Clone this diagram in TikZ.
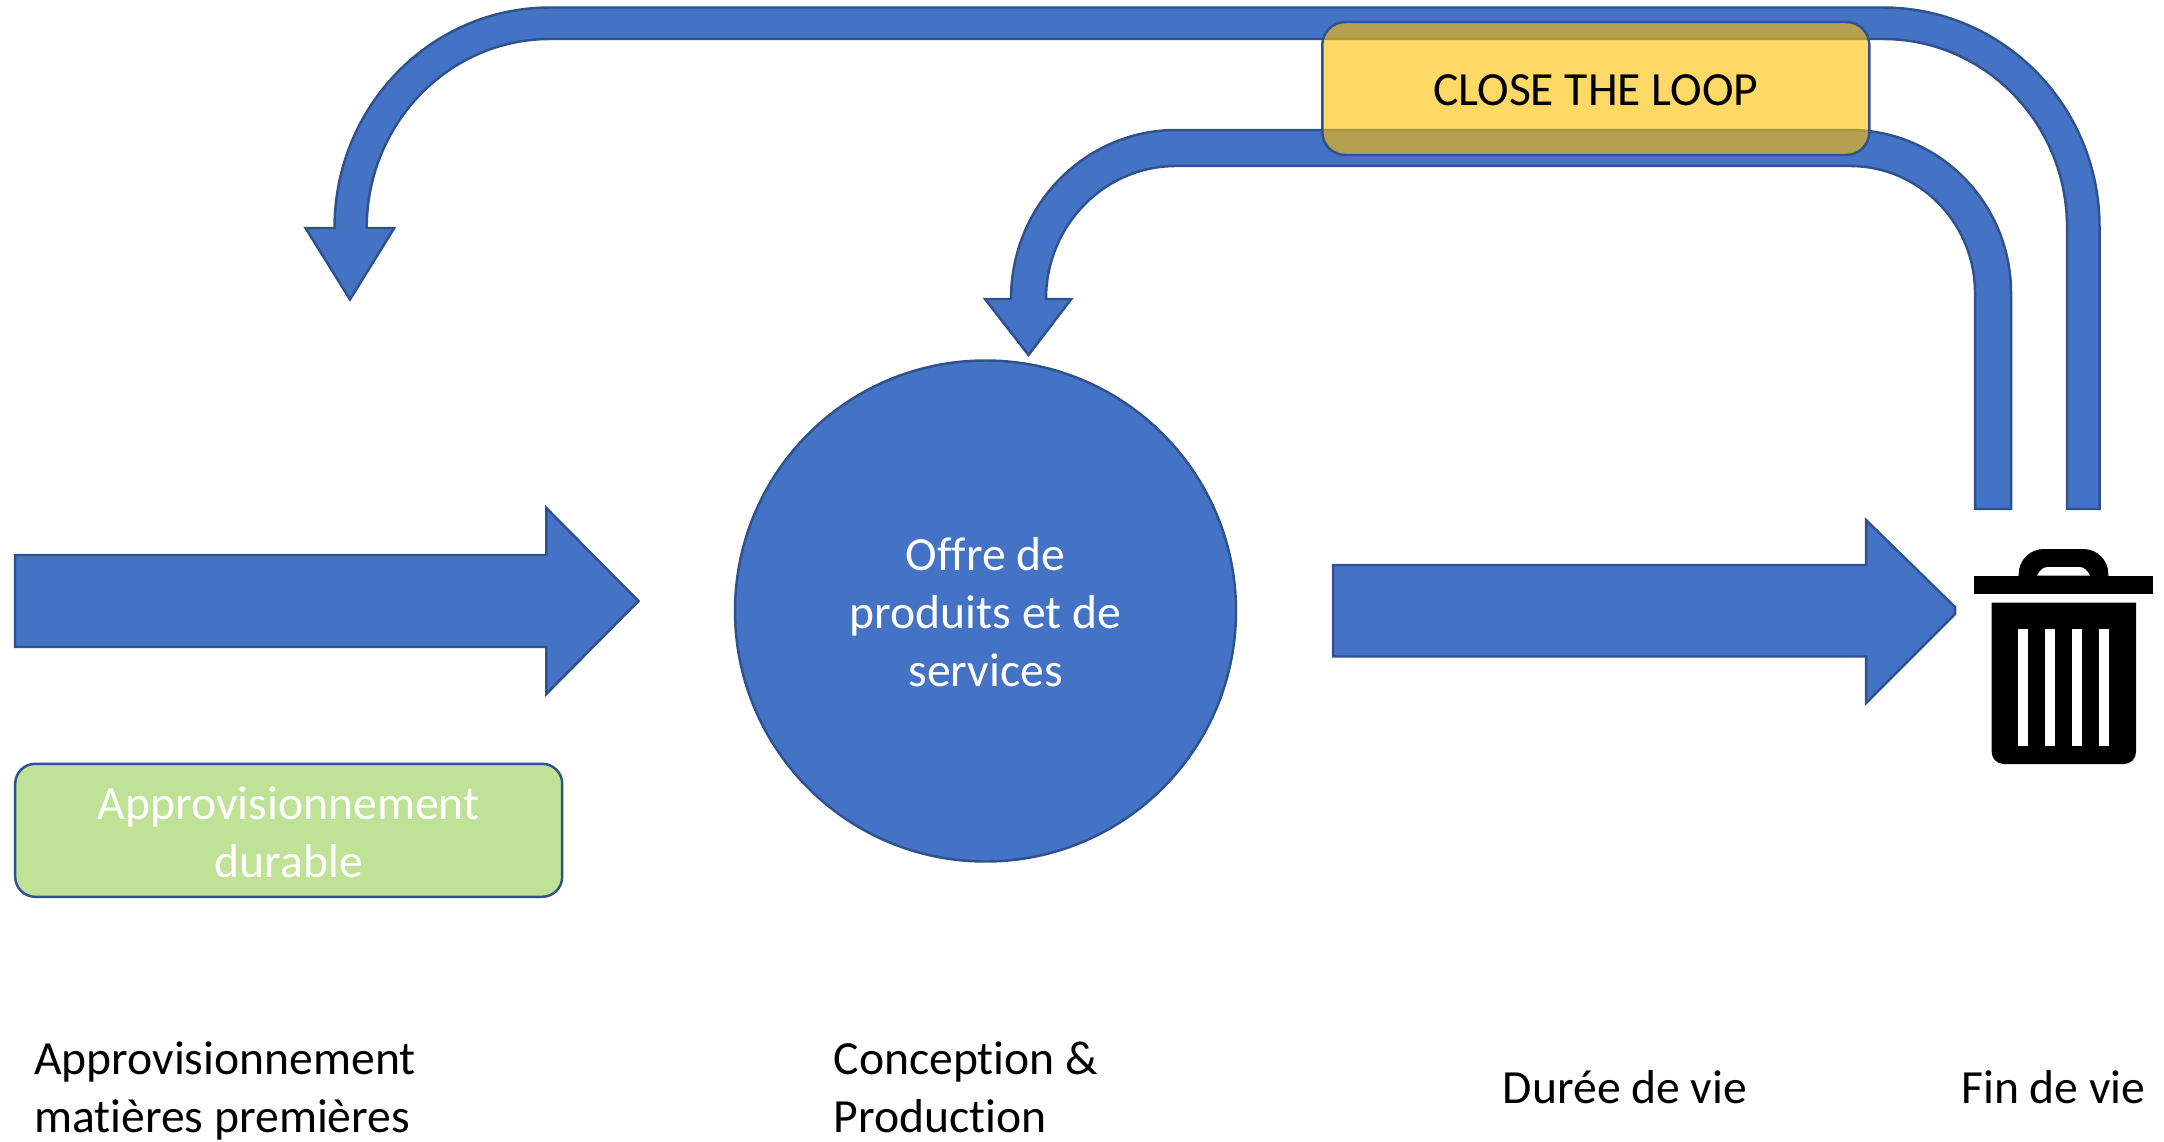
\documentclass[tikz,border=0pt]{standalone}
\usepackage{fontspec}
\setmainfont{Carlito}[Ligatures=NoCommon]
\definecolor{bleu}{HTML}{4472C4}
\definecolor{bleufonce}{HTML}{2F528F}
\definecolor{vert}{HTML}{BFE297}
\definecolor{jaune}{HTML}{FFC000}
\tikzset{
  fleche/.style={draw=bleufonce,fill=bleu,line width=.7pt},
  etiquette/.style={inner sep=0pt,font=\fontsize{13.55}{16.5}\selectfont},
  offre/.style={etiquette,circle,draw=bleufonce,fill=bleu,line width=.7pt,text=white,align=center,minimum size=50.1mm},
  durable/.style={etiquette,draw=bleufonce,fill=vert,line width=.7pt,text=white,align=center,rounded corners=2mm,minimum width=54.7mm,minimum height=13.3mm},
  boucle/.style={etiquette,draw=bleufonce,fill=jaune,fill opacity=.6,text opacity=1,draw opacity=1,line width=.7pt,rounded corners=2.3mm,minimum width=54.7mm,minimum height=13.3mm},
}
\begin{document}
\begin{tikzpicture}[x=.1mm,y=.1mm]
\useasboundingbox (0,0) rectangle (2164,1141);
% fleches droites
\draw[fleche] (15,586) -- (546.3,586) -- (546.3,633) -- (638.5,540) -- (546.3,447) -- (546.3,494) -- (15,494) -- cycle;
\draw[fleche] (1333,484.5) -- (1866,484.5) -- (1866,438) -- (1955,527) -- (1955,534) -- (1866,621) -- (1866,576) -- (1333,576) -- cycle;
% boucles
\draw[fleche] (2099.5,632) -- (2099.5,914) arc[start angle=0,end angle=90,x radius=216.5,y radius=219.5]
  -- (550,1133.5) arc[start angle=90,end angle=180,x radius=215.5,y radius=220.5]
  -- (305.5,913) -- (350,841.5) -- (394.3,913) -- (366.7,913)
  arc[start angle=180,end angle=90,x radius=183.3,y radius=189]
  -- (1883,1102) arc[start angle=90,end angle=0,x radius=184,y radius=188] -- (2067,632) -- cycle;
\draw[fleche] (2011,632) -- (2011,848) arc[start angle=0,end angle=90,x radius=161,y radius=163]
  -- (1176,1011) arc[start angle=90,end angle=180,x radius=165,y radius=169]
  -- (985,842) -- (1028.5,786) -- (1071.3,842) -- (1046,842)
  arc[start angle=180,end angle=90,x radius=130,y radius=133]
  -- (1850,975) arc[start angle=90,end angle=0,x radius=125,y radius=127] -- (1975,632) -- cycle;
% formes
\node[offre] (O) at (985.5,530) {\rule{0pt}{10.2pt}Offre de\\produits et de\\services};
\node[durable] (D) at (288.7,310.7) {\rule{0pt}{10.5pt}Approvisionnement\\durable};
\node[boucle] (B) at (1595.8,1052.5) {\raisebox{-.5pt}[\height][\depth]{CLOSE THE LOOP}};
% poubelle
\fill (1973.7,547.3) rectangle (2153.3,565.3);
\fill (2018.7,547.3) -- (2018.7,567) arc[start angle=180,end angle=90,radius=25] -- (2083.3,592) arc[start angle=90,end angle=0,radius=25] -- (2108.3,547.3) -- cycle;
\fill[white] (2037,565.3) .. controls (2040,571) and (2043,574) .. (2048,574) -- (2079,574) .. controls (2084,574) and (2087,571) .. (2090,565.3) -- cycle;
\fill (1991.7,538.3) -- (1991.7,389) arc[start angle=180,end angle=270,radius=12] -- (2124,377) arc[start angle=270,end angle=360,radius=12] -- (2136,538.3) -- cycle;
\foreach \x in {2018.3,2045.3,2072.3,2099}
  \fill[white] (\x,395) rectangle +(9.7,117);
% legendes
\node[etiquette,anchor=west,align=left] (A1) at (33.5,49.6) {Approvisionnement\\matières premières};
\node[etiquette,anchor=west,align=left] (A2) at (833,53.4) {Conception \&\\Production};
\node[etiquette] (A3) at (1625,53.4) {Durée de vie};
\node[etiquette] (A4) at (2053.5,53.4) {Fin de vie};
\end{tikzpicture}
\end{document}
